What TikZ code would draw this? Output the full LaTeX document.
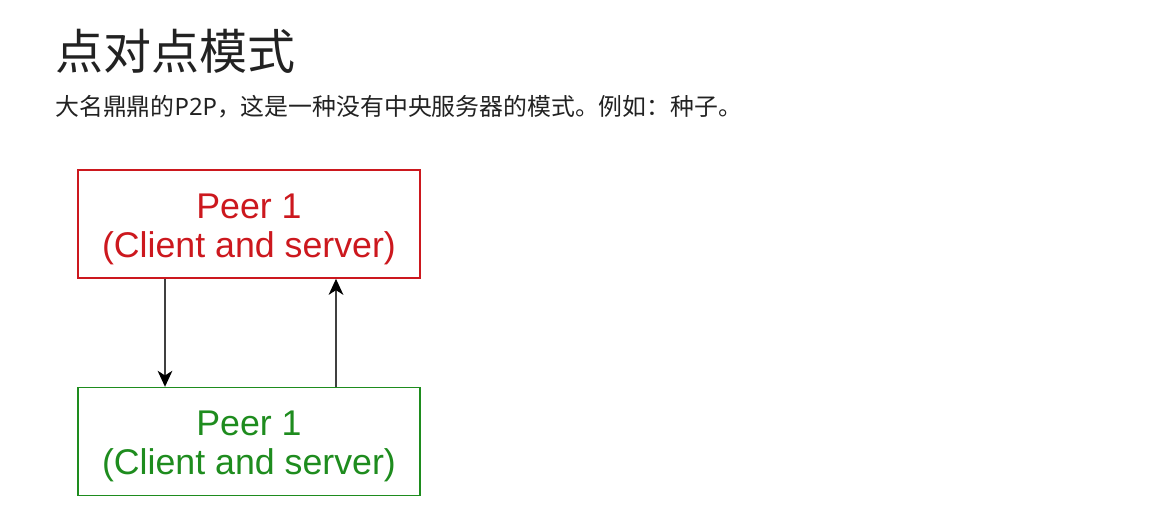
\documentclass[tikz,border=0pt]{standalone}
\usepackage{fontspec}
\setmainfont{Liberation Sans}
\newfontfamily\cjkfont{Noto Sans CJK SC}
\newfontfamily\latinfont{Noto Sans}
\usetikzlibrary{arrows.meta,positioning}
\definecolor{peerred}{RGB}{204,24,30}
\definecolor{peergreen}{RGB}{30,140,30}
\definecolor{linkgray}{RGB}{64,64,64}
\definecolor{headtext}{RGB}{34,34,34}

\begin{document}
\begin{tikzpicture}[
  node distance=81pt,
  peerbox/.style={rectangle,line width=1.2pt,minimum width=256.5pt,minimum height=81pt,
               inner sep=0pt,align=center,text height=56pt,text depth=6pt,
               font=\fontsize{26.8}{29.5}\selectfont},
  heading/.style={anchor=west,inner sep=0pt,text=headtext,font=\cjkfont\fontsize{36}{40}\selectfont},
  lead/.style={anchor=west,inner sep=0pt,text=headtext,font=\cjkfont\fontsize{17.9}{22}\selectfont},
  arr/.style={-{Stealth[length=12pt,width=11pt,inset=3.5pt,color=black]},line width=1.5pt,draw=linkgray}
]
  \useasboundingbox (0,0) rectangle (880.5pt,-394.5pt);

  \node[heading] (title) at (41.25pt,-38.25pt) {点对点模式};
  \node[lead] (intro) at (41.25pt,-80.25pt) {大名鼎鼎的{\latinfont P2P}，这是一种没有中央服务器的模式。例如：种子。};

  \node[peerbox,draw=peerred,text=peerred] (peertop) at (186.75pt,-168pt) {Peer 1\\(Client and server)};
  \node[peerbox,draw=peergreen,text=peergreen,below=81pt of peertop] (peerbottom) {Peer 1\\(Client and server)};

  \draw[arr] ([xshift=-63pt]peertop.south) -- ([xshift=-63pt]peerbottom.north);
  \draw[arr] ([xshift=65.25pt]peerbottom.north) -- ([xshift=65.25pt]peertop.south);
\end{tikzpicture}
\end{document}
